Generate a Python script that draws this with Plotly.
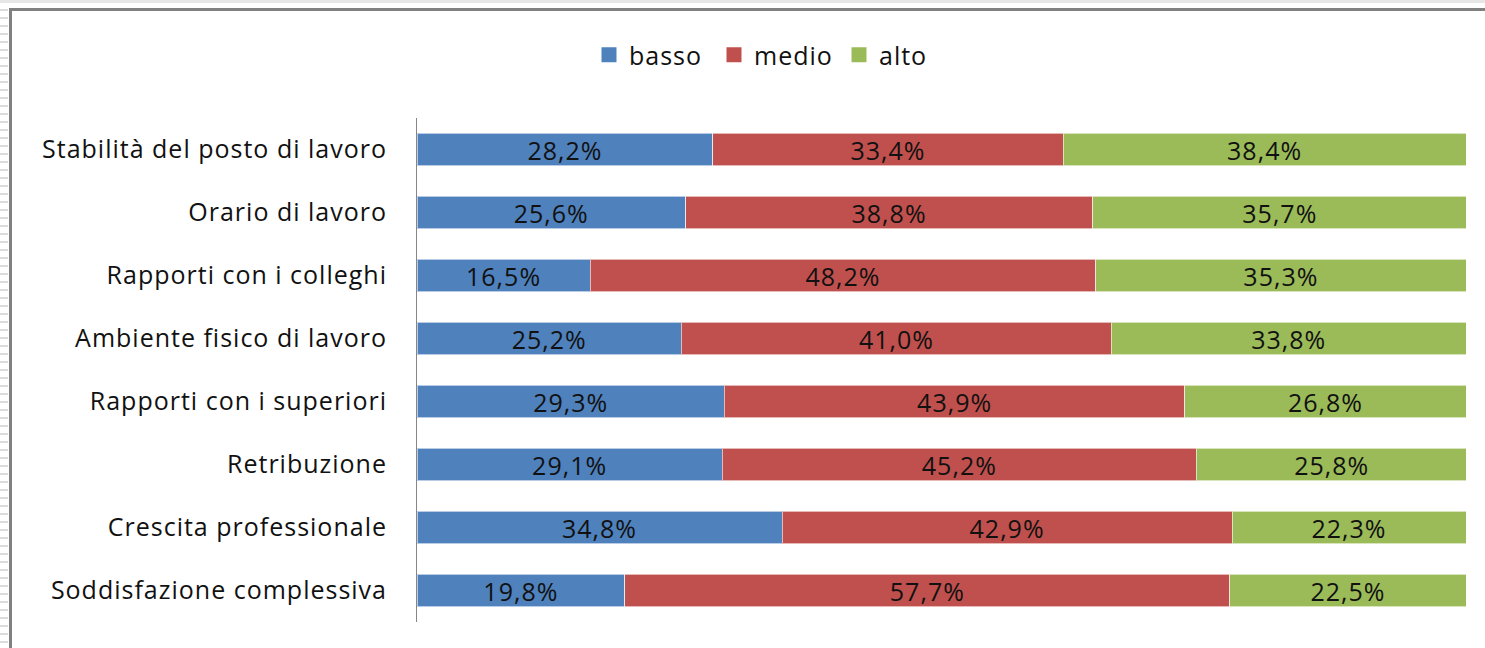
import plotly.graph_objects as go

categories = [
    "Stabilità del posto di lavoro",
    "Orario di lavoro",
    "Rapporti con i colleghi",
    "Ambiente fisico di lavoro",
    "Rapporti con i superiori",
    "Retribuzione",
    "Crescita professionale",
    "Soddisfazione complessiva",
]
basso = [28.2, 25.6, 16.5, 25.2, 29.3, 29.1, 34.8, 19.8]
medio = [33.4, 38.8, 48.2, 41.0, 43.9, 45.2, 42.9, 57.7]
alto = [38.4, 35.7, 35.3, 33.8, 26.8, 25.8, 22.3, 22.5]

series = [("basso", basso, "#4F81BD"), ("medio", medio, "#C0504D"), ("alto", alto, "#9BBB59")]

W, H = 1485, 648
L, R, T, B = 417, 19, 118, 26
pw, ph = W - L - R, H - T - B

FONT = "Open Sans"
FS = 25
fig = go.Figure()
for name, vals, col in series:
    fig.add_trace(go.Bar(
        y=categories, x=vals, name=name, orientation="h",
        marker=dict(color=col, line=dict(color="rgba(255,255,255,0.6)", width=1)),
        text=[f"{v:.1f}%".replace(".", ",") for v in vals],
        textposition="inside", insidetextanchor="middle",
        textfont=dict(color="#111111", size=FS, family=FONT),
        constraintext="none",
        hoverinfo="skip", showlegend=False,
    ))
for name, vals, col in series:
    fig.add_trace(go.Scatter(
        x=[None], y=[None], mode="markers", name=name,
        marker=dict(symbol="square", size=15, color=col),
        hoverinfo="skip", showlegend=True,
    ))

def px_x(px):
    return (px - L) / pw

def px_y(py):
    return (H - B - py) / ph

shapes = []
for yy in range(2, H, 8):
    shapes.append(dict(type="line", xref="paper", yref="paper",
                       x0=px_x(0), x1=px_x(8), y0=px_y(yy), y1=px_y(yy),
                       line=dict(color="#dcdcdc", width=2)))
shapes.append(dict(type="rect", xref="paper", yref="paper",
                   x0=px_x(0), x1=px_x(W), y0=px_y(0), y1=px_y(3),
                   fillcolor="#e6e6e6", line=dict(width=0)))
shapes.append(dict(type="line", xref="paper", yref="paper",
                   x0=px_x(9), x1=px_x(W), y0=px_y(9.5), y1=px_y(9.5),
                   line=dict(color="#808080", width=3)))
shapes.append(dict(type="line", xref="paper", yref="paper",
                   x0=px_x(10.5), x1=px_x(10.5), y0=px_y(8), y1=px_y(H),
                   line=dict(color="#808080", width=3)))

fig.update_layout(
    width=W, height=H,
    margin=dict(l=L, r=R, t=T, b=B, pad=0),
    barmode="stack", bargap=0.49,
    paper_bgcolor="white", plot_bgcolor="white",
    font=dict(family=FONT, size=FS, color="#111111"),
    showlegend=True,
    legend=dict(orientation="h", x=px_x(589), y=px_y(55), xanchor="left", yanchor="middle",
                font=dict(size=FS, family=FONT, color="#111111"), traceorder="normal",
                itemwidth=30, entrywidth=80, entrywidthmode="pixels",
                bgcolor="rgba(0,0,0,0)"),
    xaxis=dict(range=[0, 100], showgrid=False, showticklabels=False, zeroline=False,
               showline=False, ticks=""),
    yaxis=dict(autorange="reversed", showgrid=False, showline=True, linecolor="#868686",
               linewidth=1, ticks="", ticklabelstandoff=24,
               tickfont=dict(size=FS, family=FONT, color="#111111")),
    shapes=shapes,
)

post = (
    "document.body.style.margin='0';"
    "document.querySelectorAll('.main-svg text').forEach(function(t){t.style.letterSpacing='1px';});"
)
fig.write_html("out.html", post_script=post, config={"displayModeBar": False})
